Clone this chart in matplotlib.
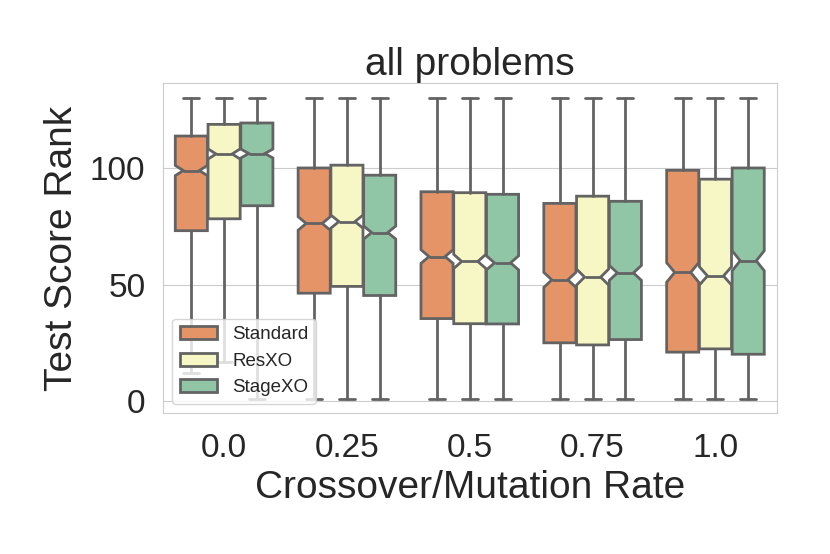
"""
    notched boxplot -- test score rank vs crossover/mutation rate
"""

import numpy
import matplotlib
matplotlib.use("Agg")
from matplotlib import pyplot as plt
from matplotlib.patches import Patch
import seaborn as sns

rates   = ["0.0", "0.25", "0.5", "0.75", "1.0"]
methods = ["Standard", "ResXO", "StageXO"]

# box stats, one list per method, one entry per rate
med_std   = [99.0, 76.3, 62.1, 52.1, 55.3]
med_res   = [106.1, 77.1, 60.0, 53.3, 53.8]
med_stage = [106.3, 72.4, 59.4, 55.1, 60.3]

q1_std    = [73.2, 46.4, 35.5, 25.1, 21.1]
q1_res    = [78.3, 49.3, 33.3, 24.2, 22.5]
q1_stage  = [83.9, 45.4, 33.2, 26.5, 20.2]

q3_std    = [113.8, 100.1, 89.9, 84.9, 99.1]
q3_res    = [118.8, 101.3, 89.5, 88.0, 95.3]
q3_stage  = [119.4, 97.0, 88.8, 85.8, 100.1]

lo_std    = [12.3, 1, 1, 1, 1]
lo_res    = [17.0, 1, 1, 1, 1]
lo_stage  = [1, 1, 1, 1, 1]

hi_std    = [130, 130, 130, 130, 130]
hi_res    = [130, 130, 130, 130, 130]
hi_stage  = [130, 130, 130, 130, 130]

n_runs = 850     # samples per box, only used for notch size

meds = [med_std, med_res, med_stage]
q1s  = [q1_std, q1_res, q1_stage]
q3s  = [q3_std, q3_res, q3_stage]
los  = [lo_std, lo_res, lo_stage]
his  = [hi_std, hi_res, hi_stage]

def main() :
    sns.set_style("whitegrid")
    plt.rcParams["font.family"] = ["Liberation Sans", "DejaVu Sans"]

    colors = [sns.desaturate(c, 0.75) for c in sns.color_palette("Spectral", 3)]
    gray = "#636363"
    lw = 2.0

    fig, ax = plt.subplots(figsize=(8.3, 5.54), dpi=100)
    fig.subplots_adjust(left=0.196, right=0.936, top=0.850, bottom=0.2545)

    width = 0.8 / 3
    for jj in range(len(methods)) :
        stats = []
        for ii in range(len(rates)) :
            iqr = q3s[jj][ii] - q1s[jj][ii]
            half = 1.57 * iqr / numpy.sqrt(n_runs)
            stats.append(dict(med=meds[jj][ii], q1=q1s[jj][ii], q3=q3s[jj][ii],
                              whislo=los[jj][ii], whishi=his[jj][ii],
                              cilo=meds[jj][ii] - half, cihi=meds[jj][ii] + half,
                              fliers=[]))
        pos = numpy.arange(len(rates)) + (jj - 1) * width
        ax.bxp(stats, positions=pos, widths=width * 0.98, shownotches=True,
               patch_artist=True, showfliers=False, manage_ticks=False,
               boxprops=dict(facecolor=colors[jj], edgecolor=gray, linewidth=lw),
               medianprops=dict(color=gray, linewidth=lw),
               whiskerprops=dict(color=gray, linewidth=lw),
               capprops=dict(color=gray, linewidth=lw))

    ax.set_xlim(-0.5, len(rates) - 0.5)
    ax.set_ylim(-5, 136.5)
    ax.set_xticks(range(len(rates)))
    ax.set_xticklabels(rates)
    ax.set_yticks([0, 50, 100])
    ax.xaxis.grid(False)
    ax.tick_params(labelsize=24)
    ax.tick_params(axis="x", pad=11)
    ax.tick_params(axis="y", pad=9)

    ax.set_title("all problems", fontsize=28)
    ax.set_xlabel("Crossover/Mutation Rate", fontsize=28, labelpad=4)
    ax.set_ylabel("Test Score Rank", fontsize=28, labelpad=7)

    handles = [Patch(facecolor=colors[jj], edgecolor=gray, linewidth=lw, label=methods[jj])
               for jj in range(len(methods))]
    ax.legend(handles=handles, loc="lower left", fontsize=13.5)

    fig.savefig("out.png", dpi=100)

if __name__ == '__main__' :
    main()
